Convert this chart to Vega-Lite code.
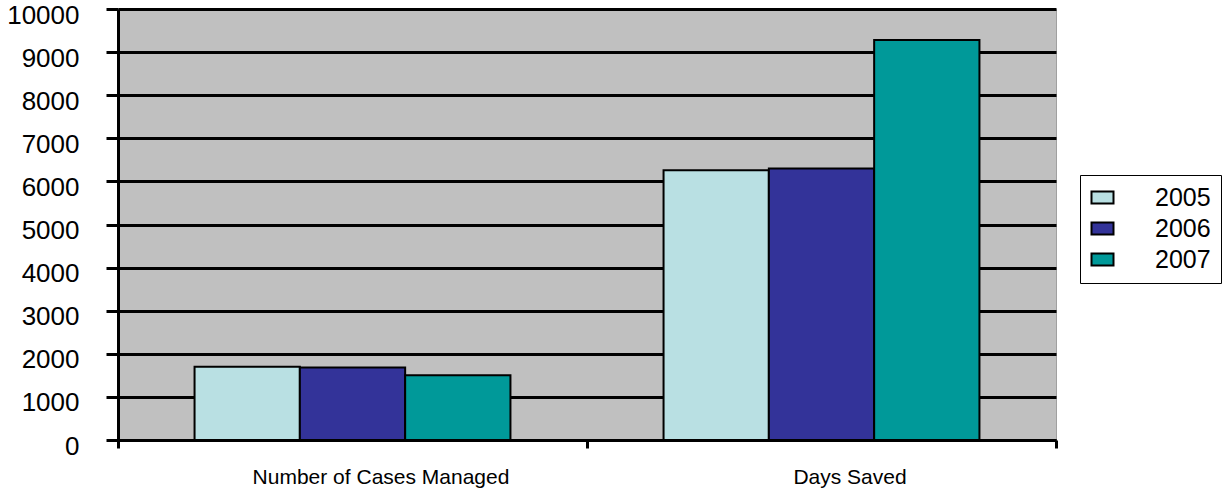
{
  "$schema": "https://vega.github.io/schema/vega-lite/v6.json",
  "autosize": "none",
  "padding": {"left": 118, "top": 9, "right": 174, "bottom": 51},
  "width": 938,
  "height": 431,
  "background": "white",
  "data": {
    "values": [
      {"category": "Number of Cases Managed", "year": "2005", "value": 1700},
      {"category": "Number of Cases Managed", "year": "2006", "value": 1680},
      {"category": "Number of Cases Managed", "year": "2007", "value": 1500},
      {"category": "Days Saved", "year": "2005", "value": 6260},
      {"category": "Days Saved", "year": "2006", "value": 6300},
      {"category": "Days Saved", "year": "2007", "value": 9280}
    ]
  },
  "mark": {"type": "bar", "stroke": "black", "strokeWidth": 2, "opacity": 1},
  "encoding": {
    "x": {
      "field": "category",
      "type": "nominal",
      "sort": ["Number of Cases Managed", "Days Saved"],
      "scale": {"paddingInner": 0, "paddingOuter": 0},
      "axis": {
        "title": null,
        "labelAngle": 0,
        "labelFont": "Liberation Sans",
        "labelFontSize": 21,
        "labelLimit": 0,
        "labelColor": "black",
        "labelPadding": 18,
        "labelOffset": 28,
        "tickSize": 8,
        "tickWidth": 3,
        "tickColor": "black",
        "tickBand": "extent",
        "domainColor": "black",
        "domainWidth": 3,
        "grid": false
      }
    },
    "xOffset": {
      "field": "year",
      "type": "nominal",
      "scale": {"paddingInner": 0, "paddingOuter": 0.727}
    },
    "y": {
      "field": "value",
      "type": "quantitative",
      "scale": {"domain": [0, 10000], "nice": false},
      "axis": {
        "title": null,
        "values": [0, 1000, 2000, 3000, 4000, 5000, 6000, 7000, 8000, 9000, 10000],
        "format": "d",
        "labelFont": "Liberation Sans",
        "labelFontSize": 26,
        "labelColor": "black",
        "labelPadding": 27,
        "labelOffset": 6,
        "tickSize": 12,
        "tickWidth": 3,
        "tickColor": "black",
        "domainColor": "black",
        "domainWidth": 3,
        "grid": true,
        "gridColor": "black",
        "gridWidth": 3,
        "gridOpacity": 1
      }
    },
    "color": {
      "field": "year",
      "type": "nominal",
      "scale": {"domain": ["2005", "2006", "2007"], "range": ["#B9E0E3", "#333399", "#009999"]},
      "legend": {
        "title": null,
        "orient": "none",
        "legendX": 962,
        "legendY": 166,
        "rowPadding": 5,
        "symbolType": "M-1,-0.55H1V0.55H-1Z",
        "symbolSize": 484,
        "labelFont": "Liberation Sans",
        "labelFontSize": 25,
        "labelColor": "black",
        "labelOffset": 40
      }
    }
  },
  "config": {
    "view": {"fill": "#C0C0C0", "stroke": "#A0A0A0", "strokeWidth": 1},
    "legend": {
      "fillColor": "white",
      "strokeColor": "black",
      "padding": 10,
      "symbolStrokeColor": "black",
      "symbolStrokeWidth": 2,
      "symbolOpacity": 1
    }
  }
}
